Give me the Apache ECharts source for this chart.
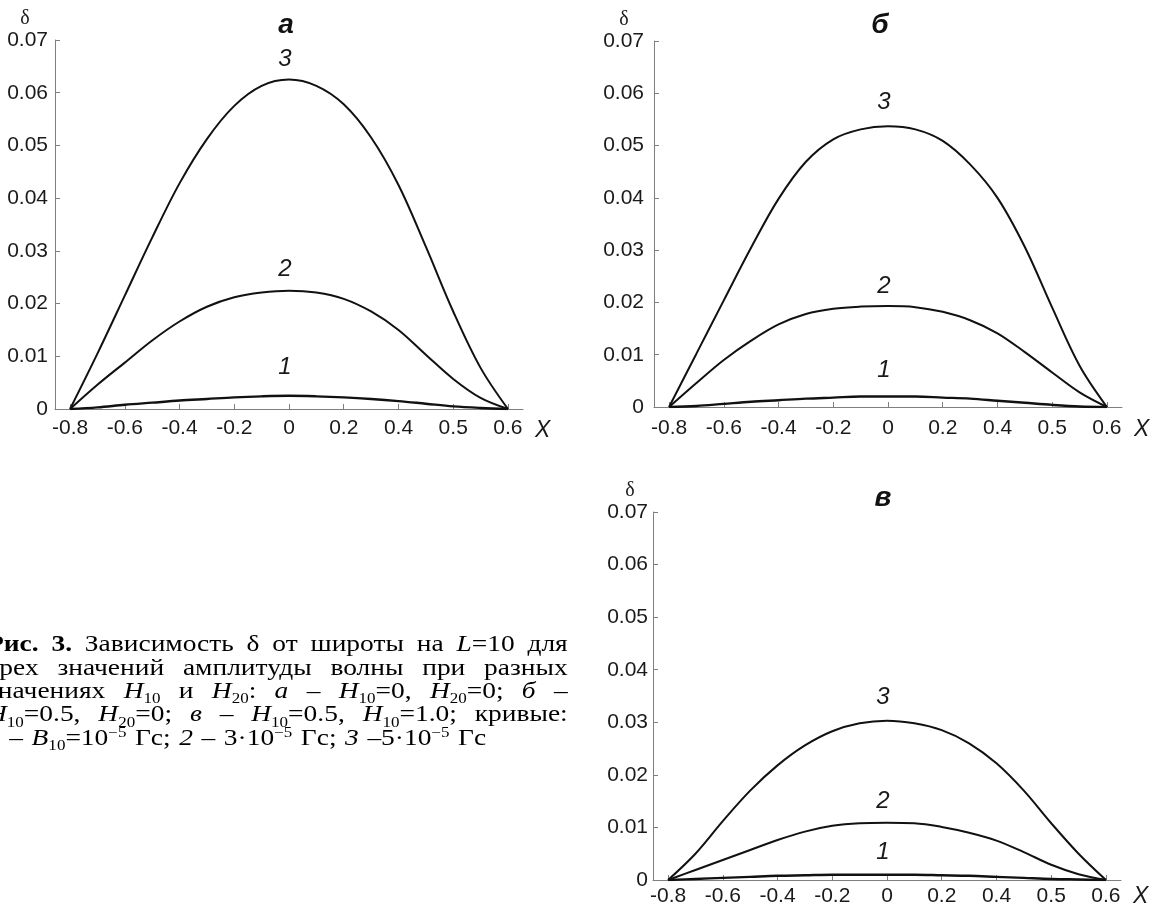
<!DOCTYPE html>
<html>
<head>
<meta charset="utf-8">
<script src="https://cdn.jsdelivr.net/npm/echarts@6/dist/echarts.min.js"></script>
<style>
html,body{margin:0;padding:0;background:#fff;}
#chart{width:1155px;height:906px;}
</style>
</head>
<body>
<div id="chart"></div>
<script>
// ---------- data ----------
const xPos = [-0.8,-0.7,-0.6,-0.5,-0.4,-0.3,-0.2,-0.1,0,0.1,0.2,0.3,0.4,0.5,0.6,0.7,0.8];
const xTickPos = [-0.8,-0.6,-0.4,-0.2,0,0.2,0.4,0.6,0.8];
const xTickLabels = ["-0.8","-0.6","-0.4","-0.2","0","0.2","0.4","0.5","0.6"];
const panelTitles = ["а","б","в"];
const curveNames = ["1","2","3"];

// panel а
const a1 = [0,0.0003,0.0008,0.0012,0.0016,0.0019,0.0022,0.0024,0.0025,0.0024,0.0022,0.0019,0.0015,0.0010,0.0005,0.0002,0];
const a2 = [0,0.0046,0.0088,0.0130,0.0166,0.0194,0.0212,0.0221,0.02245,0.0221,0.0209,0.0185,0.0150,0.0103,0.0057,0.0021,0];
const a3 = [0,0.0105,0.0215,0.0325,0.0428,0.0512,0.0575,0.0613,0.0625,0.0613,0.0578,0.0515,0.0425,0.0308,0.0185,0.0078,0];
// panel б
const b1 = [0,0.0002,0.0006,0.0010,0.0013,0.0016,0.0018,0.0020,0.0020,0.0020,0.0018,0.0016,0.0012,0.0008,0.0004,0.0001,0];
const b2 = [0,0.0046,0.0090,0.0127,0.0158,0.0178,0.0188,0.0192,0.0193,0.0191,0.0182,0.0166,0.0141,0.0105,0.0066,0.0028,0];
const b3 = [0,0.0102,0.0204,0.0305,0.0398,0.0469,0.0512,0.0531,0.0537,0.0531,0.0509,0.0464,0.0400,0.0306,0.0190,0.0079,0];
// panel в
const c1 = [0,0.0002,0.0004,0.0006,0.0008,0.0009,0.0010,0.0010,0.0010,0.0010,0.0009,0.0008,0.0006,0.0004,0.0002,0.0001,0];
const c2 = [0,0.0019,0.0038,0.0057,0.0076,0.0092,0.0103,0.0108,0.0109,0.0108,0.0101,0.0090,0.0075,0.0053,0.0029,0.0011,0];
const c3 = [0,0.0050,0.0112,0.0170,0.0218,0.0256,0.0283,0.0298,0.0303,0.0298,0.0285,0.0260,0.0222,0.0170,0.0108,0.0050,0];

const panelData = [[a1,a2,a3],[b1,b2,b3],[c1,c2,c3]];

// ---------- layout / style ----------
const SANS = '"Liberation Sans", Arial, sans-serif';
const SERIF = '"Liberation Serif", "Times New Roman", serif';
const AXIS_COLOR = '#7f7f7f';
const TEXT_COLOR = '#1a1a1a';

const grids = [
  {left:55,  top:40,  width:468, height:369},
  {left:654, top:41,  width:468, height:366},
  {left:653, top:512, width:468, height:368}
];
const yLabelMargin = [7, 10, 5];
const xLabelMargin = [9, 11, 6];
const xNamePad = [10, 11, 5];
const deltaPad = [60, 60, 46];
const titlePos = [[286,25],[880,25],[883,498]];
const labelGaps = [[16,9,8],[14,8,12],[10,9,11]];

function xFmt(v){ const i = Math.round((v + 0.8) / 0.2); return xTickLabels[i] !== undefined ? xTickLabels[i] : ''; }
function yFmt(v){ return Math.abs(v) < 1e-9 ? '0' : v.toFixed(2); }

const xAxes = [], yAxes = [], series = [], graphics = [];
grids.forEach((g, p) => {
  xAxes.push({
    gridIndex: p, type: 'value', min: -0.855, max: 0.855,
    axisLine: {show: true, onZero: false, lineStyle: {color: AXIS_COLOR, width: 1}},
    axisTick: {show: true, inside: true, length: 5, lineStyle: {color: AXIS_COLOR}, customValues: xTickPos},
    axisLabel: {customValues: xTickPos, formatter: xFmt, fontFamily: SANS, fontSize: 21, color: TEXT_COLOR, margin: xLabelMargin[p]},
    splitLine: {show: false},
    name: 'X', nameLocation: 'end', nameGap: 12,
    nameTextStyle: {fontFamily: SANS, fontStyle: 'italic', fontSize: 23, color: TEXT_COLOR, verticalAlign: 'top', padding: [xNamePad[p],0,0,0]}
  });
  yAxes.push({
    gridIndex: p, type: 'value', min: 0, max: 0.07, interval: 0.01,
    axisLine: {show: true, onZero: false, lineStyle: {color: AXIS_COLOR, width: 1}},
    axisTick: {show: true, inside: true, length: 5, lineStyle: {color: AXIS_COLOR}},
    axisLabel: {formatter: yFmt, fontFamily: SANS, fontSize: 21, color: TEXT_COLOR, margin: yLabelMargin[p]},
    splitLine: {show: false},
    name: 'δ', nameLocation: 'end', nameGap: 11,
    nameTextStyle: {fontFamily: SERIF, fontSize: 20, color: TEXT_COLOR, align: 'center', padding: [0, deltaPad[p], 0, 0]}
  });
  panelData[p].forEach((ys, k) => {
    series.push({
      type: 'line', xAxisIndex: p, yAxisIndex: p,
      smooth: 0.35, symbol: 'circle', symbolSize: 0, showSymbol: true, silent: true,
      lineStyle: {color: '#111', width: k === 0 ? 2.4 : 2},
      itemStyle: {color: '#111'},
      label: {show: false},
      data: xPos.map((x, i) => {
        if (x === 0) {
          return {value: [x, ys[i]], label: {show: true, position: 'top', distance: labelGaps[p][k], offset: [-4, 0],
            formatter: curveNames[k], fontFamily: SANS, fontStyle: 'italic', fontSize: 24, color: TEXT_COLOR}};
        }
        return [x, ys[i]];
      })
    });
  });
  graphics.push({type: 'text', x: titlePos[p][0], y: titlePos[p][1], silent: true,
    style: {text: panelTitles[p], font: 'italic bold 28px ' + SANS, fill: '#111', align: 'center', verticalAlign: 'middle'}});
});

// ---------- caption (justified, Times) ----------
const FS = 22.5;
const captionLines = [
  [[["Рис.","b"]],[["3.","b"]],[["Зависимость",""]],[["δ",""]],[["от",""]],[["широты",""]],[["на",""]],[["L","i"],["=10",""]],[["для",""]]],
  [[["трех",""]],[["значений",""]],[["амплитуды",""]],[["волны",""]],[["при",""]],[["разных",""]]],
  [[["значениях",""]],[["H","i"],["10","sub"]],[["и",""]],[["H","i"],["20","sub"],[":",""]],[["а","i"]],[["–",""]],[["H","i"],["10","sub"],["=0,",""]],[["H","i"],["20","sub"],["=0;",""]],[["б","i"]],[["–",""]]],
  [[["H","i"],["10","sub"],["=0.5,",""]],[["H","i"],["20","sub"],["=0;",""]],[["в","i"]],[["–",""]],[["H","i"],["10","sub"],["=0.5,",""]],[["H","i"],["10","sub"],["=1.0;",""]],[["кривые:",""]]],
  [[["1","i"]],[["–",""]],[["B","i"],["10","sub"],["=10",""],["−5","sup"]],[["Гс;",""]],[["2","i"]],[["–",""]],[["3·10",""],["−5","sup"]],[["Гс;",""]],[["3","i"]],[["–5·10",""],["−5","sup"]],[["Гс",""]]]
];
const captionBase = 653, captionStep = 23.4, captionWidth = 476, captionScaleX = 1.22;
const mctx = document.createElement('canvas').getContext('2d');
function segFont(f){
  const small = (f === 'sub' || f === 'sup');
  return (f === 'i' ? 'italic ' : '') + (f === 'b' ? 'bold ' : '') + (small ? FS*0.62 : FS) + 'px ' + SERIF;
}
function segW(s){ mctx.font = segFont(s[1]); return mctx.measureText(s[0]).width; }
mctx.font = FS + 'px ' + SERIF;
const spaceW = mctx.measureText(' ').width;
const capChildren = [];
captionLines.forEach((words, li) => {
  const base = captionBase + li * captionStep;
  const widths = words.map(w => w.reduce((s, seg) => s + segW(seg), 0));
  const total = widths.reduce((a, b) => a + b, 0);
  const last = li === captionLines.length - 1;
  const gap = last ? spaceW * 1.25 : Math.max(spaceW * 0.6, (captionWidth - total) / (words.length - 1));
  let x = 0;
  words.forEach((w) => {
    w.forEach(seg => {
      const f = seg[1];
      let y = base, size = FS;
      if (f === 'sub') { y = base + FS*0.2; size = FS*0.62; }
      if (f === 'sup') { y = base - FS*0.4; size = FS*0.62; }
      capChildren.push({type: 'text', x: x, y: y - size*0.34, silent: true,
        style: {text: seg[0], font: segFont(f), fill: '#000', align: 'left', verticalAlign: 'middle'}});
      x += segW(seg);
    });
    x += gap;
  });
});
graphics.push({type: 'group', x: -13, y: 0, scaleX: captionScaleX, scaleY: 1, silent: true, children: capChildren});

const option = {
  backgroundColor: '#fff',
  animation: false,
  grid: grids.map(g => Object.assign({containLabel: false, outerBoundsMode: 'none'}, g)),
  xAxis: xAxes,
  yAxis: yAxes,
  series: series,
  graphic: graphics
};
const chart = echarts.init(document.getElementById('chart'), null, {renderer: 'canvas'});
chart.setOption(option);
</script>
</body>
</html>
